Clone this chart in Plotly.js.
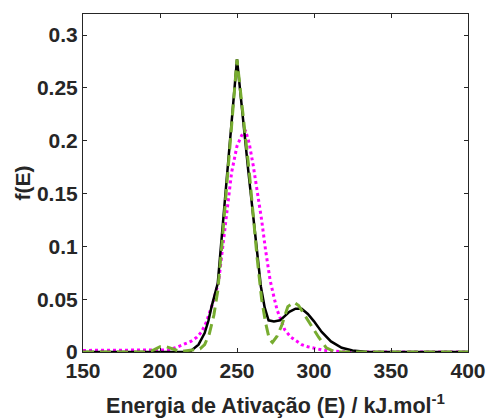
<!DOCTYPE html>
<html>
<head>
<meta charset="utf-8">
<script src="https://cdn.plot.ly/plotly-3.0.1.min.js"></script>
<style>html,body{margin:0;padding:0;background:#fff;}#chart{width:487px;height:418px;}</style>
</head>
<body>
<div id="chart"></div>
<script>
// Activation energy (kJ/mol) and distribution values
var E_black = [150,215,220,225,229,231.5,233.5,237.5,250,257.3,265.5,268,270.5,274,278,281,284,288,292,296,300,305,311,318,325,335,400];
var f_black = [0,0,0.001,0.007,0.018,0.030,0.043,0.065,0.277,0.172,0.062,0.042,0.030,0.029,0.030,0.034,0.038,0.041,0.041,0.036,0.029,0.019,0.010,0.004,0.0015,0,0];

var E_green = [150,192,196,200,204,208,212,216,222,226,229,232,235,237.5,240,250,258,263,266,268.5,271,273,276,279,283,287,290,296,303,308,313,318,400];
var f_green = [0,0,0.002,0.005,0.005,0.003,0.001,0.001,0.002,0.003,0.007,0.017,0.035,0.058,0.098,0.277,0.17,0.09,0.05,0.028,0.012,0.009,0.015,0.025,0.043,0.047,0.044,0.030,0.014,0.004,0.0005,0,0];

var E_mag = [150,200,205,210,215,220,224,227,230,234,238,242,246.5,250,253,255.5,258,260.6,263,266,268.5,271.5,274,276,281,285,288,292,296,305,317,325,400];
var f_mag = [0.0015,0.0015,0.002,0.004,0.007,0.010,0.014,0.019,0.028,0.045,0.066,0.115,0.17,0.195,0.205,0.210,0.197,0.176,0.155,0.125,0.097,0.068,0.052,0.040,0.021,0.014,0.011,0.007,0.005,0.002,0.0003,0,0];

var xTicks = [150,200,250,300,350,400];
var yTicks = [0,0.05,0.1,0.15,0.2,0.25,0.3];
var yTickText = ['0','0.05','0.1','0.15','0.2','0.25','0.3'];

var axisColor = '#262626';
var fam = 'Liberation Sans, Arial, sans-serif';
var tickFont = {family: fam, size: 21, color: '#262626', weight: 'bold'};

var traces = [
  {x: E_mag, y: f_mag, mode: 'lines', line: {color: '#FF00FF', width: 3, dash: 'dot'}, hoverinfo: 'skip'},
  {x: E_black, y: f_black, mode: 'lines', line: {color: '#000000', width: 2.5}, hoverinfo: 'skip'},
  {x: E_green, y: f_green, mode: 'lines', line: {color: '#77AC30', width: 3, dash: '11px,6px'}, hoverinfo: 'skip'}
];

var layout = {
  width: 487, height: 418,
  margin: {l: 83, r: 19, t: 14, b: 66},
  paper_bgcolor: '#ffffff', plot_bgcolor: '#ffffff',
  showlegend: false,
  xaxis: {
    range: [150, 400], tickvals: xTicks, ticktext: xTicks.map(String),
    ticks: 'inside', ticklen: 4, tickcolor: axisColor, tickwidth: 1,
    showline: true, linecolor: axisColor, linewidth: 1, mirror: 'ticks',
    showgrid: false, zeroline: false,
    tickfont: tickFont,
    title: {text: 'Energia de Ativação (E) / kJ.mol<sup>-1</sup>', font: {family: fam, size: 21.5, color: '#262626', weight: 'bold'}, standoff: 18}
  },
  yaxis: {
    range: [0, 0.32], tickvals: yTicks, ticktext: yTickText,
    ticks: 'inside', ticklen: 4, tickcolor: axisColor, tickwidth: 1,
    showline: true, linecolor: axisColor, linewidth: 1, mirror: 'ticks',
    showgrid: false, zeroline: false,
    tickfont: tickFont,
    title: {text: 'f(E)', font: {family: fam, size: 21, color: '#262626', weight: 'bold'}, standoff: 0}
  }
};

Plotly.newPlot('chart', traces, layout, {displayModeBar: false, staticPlot: true});
</script>
</body>
</html>
